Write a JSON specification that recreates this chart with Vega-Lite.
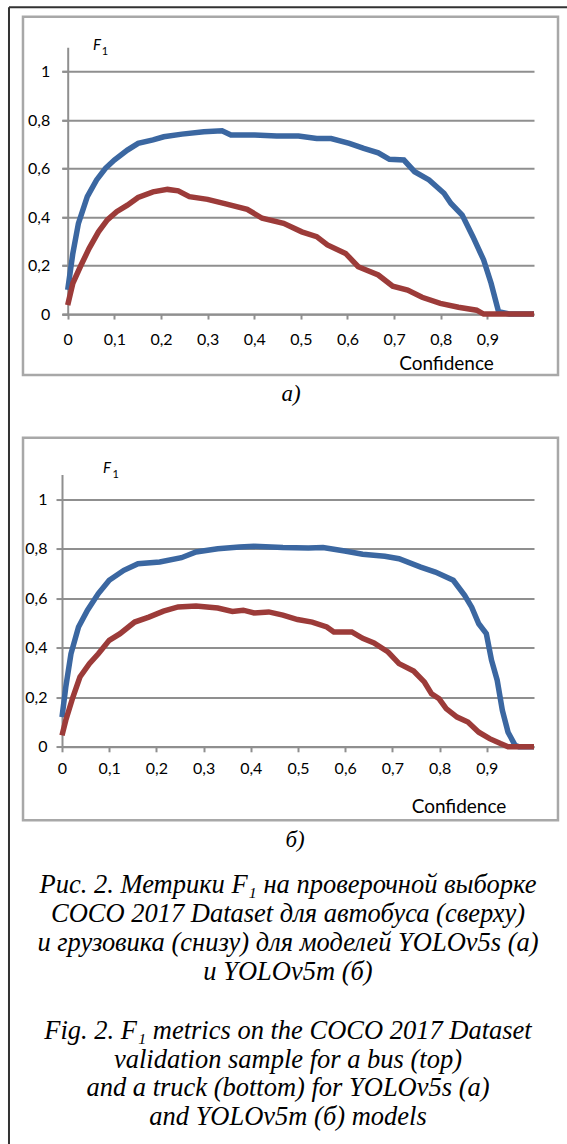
{
  "$schema": "https://vega.github.io/schema/vega-lite/v6.json",
  "padding": {"left": 7, "top": 6.3, "right": 0, "bottom": 0},
  "background": "white",
  "spacing": 160.25,
  "bounds": "flush",
  "config": {
    "view": {"stroke": null},
    "axis": {
      "labelFont": "Lato", "labelFontSize": 16, "labelColor": "#000000",
      "domainColor": "#8f8f8f", "domainWidth": 2,
      "tickColor": "#8f8f8f", "tickWidth": 2,
      "gridColor": "#8f8f8f", "gridWidth": 2,
      "titleFont": "Lato", "titleFontSize": 19, "titleFontWeight": "normal", "titleColor": "#000000",
      "labelFlush": false, "labelOverlap": false
    }
  },
  "datasets": {
    "a": [
      {"series": "bus", "confidence": 0, "f1": 0.10},
      {"series": "bus", "confidence": 0.011, "f1": 0.25},
      {"series": "bus", "confidence": 0.023, "f1": 0.374},
      {"series": "bus", "confidence": 0.042, "f1": 0.484},
      {"series": "bus", "confidence": 0.062, "f1": 0.553},
      {"series": "bus", "confidence": 0.081, "f1": 0.601},
      {"series": "bus", "confidence": 0.1, "f1": 0.635},
      {"series": "bus", "confidence": 0.128, "f1": 0.676},
      {"series": "bus", "confidence": 0.151, "f1": 0.704},
      {"series": "bus", "confidence": 0.183, "f1": 0.718},
      {"series": "bus", "confidence": 0.206, "f1": 0.731},
      {"series": "bus", "confidence": 0.245, "f1": 0.742},
      {"series": "bus", "confidence": 0.292, "f1": 0.752},
      {"series": "bus", "confidence": 0.331, "f1": 0.756},
      {"series": "bus", "confidence": 0.35, "f1": 0.738},
      {"series": "bus", "confidence": 0.401, "f1": 0.738},
      {"series": "bus", "confidence": 0.448, "f1": 0.734},
      {"series": "bus", "confidence": 0.495, "f1": 0.734},
      {"series": "bus", "confidence": 0.534, "f1": 0.724},
      {"series": "bus", "confidence": 0.565, "f1": 0.724},
      {"series": "bus", "confidence": 0.604, "f1": 0.704},
      {"series": "bus", "confidence": 0.635, "f1": 0.683},
      {"series": "bus", "confidence": 0.666, "f1": 0.665},
      {"series": "bus", "confidence": 0.69, "f1": 0.638},
      {"series": "bus", "confidence": 0.721, "f1": 0.635},
      {"series": "bus", "confidence": 0.744, "f1": 0.587},
      {"series": "bus", "confidence": 0.775, "f1": 0.553},
      {"series": "bus", "confidence": 0.807, "f1": 0.498},
      {"series": "bus", "confidence": 0.822, "f1": 0.456},
      {"series": "bus", "confidence": 0.846, "f1": 0.408},
      {"series": "bus", "confidence": 0.869, "f1": 0.319},
      {"series": "bus", "confidence": 0.892, "f1": 0.223},
      {"series": "bus", "confidence": 0.908, "f1": 0.127},
      {"series": "bus", "confidence": 0.924, "f1": 0.01},
      {"series": "bus", "confidence": 0.947, "f1": 0},
      {"series": "bus", "confidence": 1.0, "f1": 0},
      {"series": "truck", "confidence": 0, "f1": 0.037},
      {"series": "truck", "confidence": 0.011, "f1": 0.127},
      {"series": "truck", "confidence": 0.027, "f1": 0.195},
      {"series": "truck", "confidence": 0.046, "f1": 0.271},
      {"series": "truck", "confidence": 0.066, "f1": 0.339},
      {"series": "truck", "confidence": 0.085, "f1": 0.388},
      {"series": "truck", "confidence": 0.105, "f1": 0.422},
      {"series": "truck", "confidence": 0.128, "f1": 0.449},
      {"series": "truck", "confidence": 0.151, "f1": 0.481},
      {"series": "truck", "confidence": 0.183, "f1": 0.504},
      {"series": "truck", "confidence": 0.214, "f1": 0.514},
      {"series": "truck", "confidence": 0.237, "f1": 0.508},
      {"series": "truck", "confidence": 0.261, "f1": 0.484},
      {"series": "truck", "confidence": 0.3, "f1": 0.473},
      {"series": "truck", "confidence": 0.339, "f1": 0.454},
      {"series": "truck", "confidence": 0.385, "f1": 0.432},
      {"series": "truck", "confidence": 0.417, "f1": 0.395},
      {"series": "truck", "confidence": 0.463, "f1": 0.374},
      {"series": "truck", "confidence": 0.502, "f1": 0.339},
      {"series": "truck", "confidence": 0.534, "f1": 0.319},
      {"series": "truck", "confidence": 0.557, "f1": 0.285},
      {"series": "truck", "confidence": 0.596, "f1": 0.25},
      {"series": "truck", "confidence": 0.623, "f1": 0.195},
      {"series": "truck", "confidence": 0.666, "f1": 0.161},
      {"series": "truck", "confidence": 0.697, "f1": 0.115},
      {"series": "truck", "confidence": 0.729, "f1": 0.099},
      {"series": "truck", "confidence": 0.76, "f1": 0.069},
      {"series": "truck", "confidence": 0.799, "f1": 0.044},
      {"series": "truck", "confidence": 0.838, "f1": 0.028},
      {"series": "truck", "confidence": 0.877, "f1": 0.016},
      {"series": "truck", "confidence": 0.892, "f1": 0},
      {"series": "truck", "confidence": 1.0, "f1": 0}
    ],
    "b": [
      {"series": "bus", "confidence": 0, "f1": 0.12},
      {"series": "bus", "confidence": 0.008, "f1": 0.241},
      {"series": "bus", "confidence": 0.019, "f1": 0.376},
      {"series": "bus", "confidence": 0.035, "f1": 0.484},
      {"series": "bus", "confidence": 0.054, "f1": 0.552},
      {"series": "bus", "confidence": 0.077, "f1": 0.619},
      {"series": "bus", "confidence": 0.1, "f1": 0.673},
      {"series": "bus", "confidence": 0.131, "f1": 0.713},
      {"series": "bus", "confidence": 0.161, "f1": 0.74},
      {"series": "bus", "confidence": 0.207, "f1": 0.747},
      {"series": "bus", "confidence": 0.253, "f1": 0.764},
      {"series": "bus", "confidence": 0.284, "f1": 0.787},
      {"series": "bus", "confidence": 0.33, "f1": 0.8},
      {"series": "bus", "confidence": 0.376, "f1": 0.807},
      {"series": "bus", "confidence": 0.407, "f1": 0.81},
      {"series": "bus", "confidence": 0.468, "f1": 0.805},
      {"series": "bus", "confidence": 0.522, "f1": 0.803},
      {"series": "bus", "confidence": 0.553, "f1": 0.805},
      {"series": "bus", "confidence": 0.599, "f1": 0.791},
      {"series": "bus", "confidence": 0.637, "f1": 0.778},
      {"series": "bus", "confidence": 0.684, "f1": 0.77},
      {"series": "bus", "confidence": 0.714, "f1": 0.76},
      {"series": "bus", "confidence": 0.76, "f1": 0.726},
      {"series": "bus", "confidence": 0.791, "f1": 0.706},
      {"series": "bus", "confidence": 0.829, "f1": 0.673},
      {"series": "bus", "confidence": 0.853, "f1": 0.612},
      {"series": "bus", "confidence": 0.868, "f1": 0.564},
      {"series": "bus", "confidence": 0.883, "f1": 0.497},
      {"series": "bus", "confidence": 0.899, "f1": 0.457},
      {"series": "bus", "confidence": 0.91, "f1": 0.35},
      {"series": "bus", "confidence": 0.922, "f1": 0.269},
      {"series": "bus", "confidence": 0.933, "f1": 0.147},
      {"series": "bus", "confidence": 0.945, "f1": 0.059},
      {"series": "bus", "confidence": 0.96, "f1": 0.006},
      {"series": "bus", "confidence": 0.968, "f1": 0},
      {"series": "bus", "confidence": 1.0, "f1": 0},
      {"series": "truck", "confidence": 0, "f1": 0.046},
      {"series": "truck", "confidence": 0.008, "f1": 0.107},
      {"series": "truck", "confidence": 0.023, "f1": 0.2},
      {"series": "truck", "confidence": 0.038, "f1": 0.282},
      {"series": "truck", "confidence": 0.058, "f1": 0.336},
      {"series": "truck", "confidence": 0.077, "f1": 0.376},
      {"series": "truck", "confidence": 0.1, "f1": 0.43},
      {"series": "truck", "confidence": 0.123, "f1": 0.457},
      {"series": "truck", "confidence": 0.154, "f1": 0.504},
      {"series": "truck", "confidence": 0.184, "f1": 0.524},
      {"series": "truck", "confidence": 0.215, "f1": 0.548},
      {"series": "truck", "confidence": 0.246, "f1": 0.565},
      {"series": "truck", "confidence": 0.284, "f1": 0.569},
      {"series": "truck", "confidence": 0.33, "f1": 0.561},
      {"series": "truck", "confidence": 0.361, "f1": 0.547},
      {"series": "truck", "confidence": 0.384, "f1": 0.552},
      {"series": "truck", "confidence": 0.407, "f1": 0.541},
      {"series": "truck", "confidence": 0.438, "f1": 0.545},
      {"series": "truck", "confidence": 0.468, "f1": 0.532},
      {"series": "truck", "confidence": 0.499, "f1": 0.514},
      {"series": "truck", "confidence": 0.53, "f1": 0.504},
      {"series": "truck", "confidence": 0.561, "f1": 0.484},
      {"series": "truck", "confidence": 0.576, "f1": 0.464},
      {"series": "truck", "confidence": 0.614, "f1": 0.464},
      {"series": "truck", "confidence": 0.637, "f1": 0.438},
      {"series": "truck", "confidence": 0.661, "f1": 0.42},
      {"series": "truck", "confidence": 0.691, "f1": 0.383},
      {"series": "truck", "confidence": 0.714, "f1": 0.336},
      {"series": "truck", "confidence": 0.745, "f1": 0.306},
      {"series": "truck", "confidence": 0.768, "f1": 0.261},
      {"series": "truck", "confidence": 0.783, "f1": 0.214},
      {"series": "truck", "confidence": 0.799, "f1": 0.194},
      {"series": "truck", "confidence": 0.814, "f1": 0.154},
      {"series": "truck", "confidence": 0.837, "f1": 0.12},
      {"series": "truck", "confidence": 0.86, "f1": 0.1},
      {"series": "truck", "confidence": 0.883, "f1": 0.059},
      {"series": "truck", "confidence": 0.906, "f1": 0.033},
      {"series": "truck", "confidence": 0.929, "f1": 0.013},
      {"series": "truck", "confidence": 0.945, "f1": 0},
      {"series": "truck", "confidence": 1.0, "f1": 0}
    ]
  },
  "vconcat": [
    {
      "width": 472,
      "height": 266.75,
      "layer": [
        {
          "data": {"values": [{}]},
          "mark": {"type": "rule", "color": "#333333", "strokeWidth": 2, "clip": false},
          "encoding": {
            "x": {"datum": -0.1259, "type": "quantitative"},
            "y": {"datum": 1.2647, "type": "quantitative"},
            "y2": {"datum": -3.4227}
          }
        },
        {
          "data": {"values": [{}]},
          "mark": {"type": "rule", "color": "#333333", "strokeWidth": 2, "clip": false},
          "encoding": {
            "y": {"datum": 1.2647, "type": "quantitative"},
            "x": {"datum": -0.1259, "type": "quantitative"},
            "x2": {"datum": 1.0729}
          }
        },
        {
          "data": {"values": [{}]},
          "mark": {"type": "rect", "fill": "transparent", "stroke": "#a8a8a8", "strokeWidth": 2.5, "clip": false},
          "encoding": {
            "x": {"datum": -0.0959, "type": "quantitative"},
            "x2": {"datum": 1.0515},
            "y": {"datum": 1.226, "type": "quantitative"},
            "y2": {"datum": -0.2515}
          }
        },
        {
          "data": {"name": "a"},
          "mark": {"type": "line", "strokeWidth": 5.5, "clip": false},
          "encoding": {
            "x": {
              "field": "confidence", "type": "quantitative",
              "scale": {"domain": [-0.01222, 1], "nice": false, "zero": false},
              "axis": {
                "values": [0, 0.1, 0.2, 0.3, 0.4, 0.5, 0.6, 0.7, 0.8, 0.9],
                "labelExpr": "replace(format(datum.value, '~g'), '.', ',')",
                "grid": false, "tickSize": 5, "labelPadding": 12,
                "title": "Confidence", "titleX": 384, "titleY": 49,
                "titleAlign": "center", "titleBaseline": "middle"
              }
            },
            "y": {
              "field": "f1", "type": "quantitative",
              "scale": {"domain": [0, 1.1], "nice": false, "zero": false},
              "axis": {
                "values": [0, 0.2, 0.4, 0.6, 0.8, 1],
                "labelExpr": "replace(format(datum.value, '~g'), '.', ',')",
                "grid": true, "tickSize": 6, "labelPadding": 12, "offset": -5.7,
                "title": null
              }
            },
            "color": {
              "field": "series", "type": "nominal",
              "scale": {"domain": ["bus", "truck"], "range": ["#3b67a1", "#9c3b39"]},
              "legend": null
            }
          }
        },
        {
          "data": {"values": [{}]},
          "mark": {"type": "text", "font": "Lato", "fontStyle": "italic", "fontSize": 15, "color": "#000000", "align": "center", "baseline": "middle", "clip": false},
          "encoding": {
            "x": {"datum": 0.0628, "type": "quantitative"},
            "y": {"datum": 1.109, "type": "quantitative"},
            "text": {"value": "F"}
          }
        },
        {
          "data": {"values": [{}]},
          "mark": {"type": "text", "font": "Lato", "fontSize": 11, "color": "#000000", "align": "center", "baseline": "middle", "clip": false},
          "encoding": {
            "x": {"datum": 0.0798, "type": "quantitative"},
            "y": {"datum": 1.08, "type": "quantitative"},
            "text": {"value": "1"}
          }
        },
        {
          "data": {"values": [{}]},
          "mark": {"type": "text", "font": "'Liberation Serif', 'Times New Roman', serif", "fontStyle": "italic", "fontSize": 23, "color": "#000000", "align": "center", "baseline": "middle", "clip": false},
          "encoding": {
            "x": {"datum": 0.479, "type": "quantitative"},
            "y": {"datum": -0.33, "type": "quantitative"},
            "text": {"value": "а)"}
          }
        }
      ]
    },
    {
      "width": 472,
      "height": 272.25,
      "layer": [
        {
          "data": {"values": [{}]},
          "mark": {"type": "rect", "fill": "transparent", "stroke": "#a8a8a8", "strokeWidth": 2.5, "clip": false},
          "encoding": {
            "x": {"datum": -0.0826, "type": "quantitative"},
            "x2": {"datum": 1.0508},
            "y": {"datum": 1.249, "type": "quantitative"},
            "y2": {"datum": -0.297}
          }
        },
        {
          "data": {"name": "b"},
          "mark": {"type": "line", "strokeWidth": 5.5, "clip": false},
          "encoding": {
            "x": {
              "field": "confidence", "type": "quantitative",
              "scale": {"domain": [0, 1], "nice": false, "zero": false},
              "axis": {
                "values": [0, 0.1, 0.2, 0.3, 0.4, 0.5, 0.6, 0.7, 0.8, 0.9],
                "labelExpr": "replace(format(datum.value, '~g'), '.', ',')",
                "grid": false, "tickSize": 5, "labelPadding": 9,
                "title": "Confidence", "titleX": 396.5, "titleY": 60,
                "titleAlign": "center", "titleBaseline": "middle"
              }
            },
            "y": {
              "field": "f1", "type": "quantitative",
              "scale": {"domain": [0, 1.1], "nice": false, "zero": false},
              "axis": {
                "values": [0, 0.2, 0.4, 0.6, 0.8, 1],
                "labelExpr": "replace(format(datum.value, '~g'), '.', ',')",
                "grid": true, "tickSize": 6, "labelPadding": 9,
                "title": null
              }
            },
            "color": {
              "field": "series", "type": "nominal",
              "scale": {"domain": ["bus", "truck"], "range": ["#3b67a1", "#9c3b39"]},
              "legend": null
            }
          }
        },
        {
          "data": {"values": [{}]},
          "mark": {"type": "text", "font": "Lato", "fontStyle": "italic", "fontSize": 15, "color": "#000000", "align": "center", "baseline": "middle", "clip": false},
          "encoding": {
            "x": {"datum": 0.0953, "type": "quantitative"},
            "y": {"datum": 1.127, "type": "quantitative"},
            "text": {"value": "F"}
          }
        },
        {
          "data": {"values": [{}]},
          "mark": {"type": "text", "font": "Lato", "fontSize": 11, "color": "#000000", "align": "center", "baseline": "middle", "clip": false},
          "encoding": {
            "x": {"datum": 0.114, "type": "quantitative"},
            "y": {"datum": 1.099, "type": "quantitative"},
            "text": {"value": "1"}
          }
        },
        {
          "data": {"values": [{}]},
          "mark": {"type": "text", "font": "'Liberation Serif', 'Times New Roman', serif", "fontStyle": "italic", "fontSize": 23, "color": "#000000", "align": "center", "baseline": "middle", "clip": false},
          "encoding": {
            "x": {"datum": 0.494, "type": "quantitative"},
            "y": {"datum": -0.378, "type": "quantitative"},
            "text": {"value": "б)"}
          }
        },
        {
          "data": {"values": [{}]},
          "mark": {"type": "text", "font": "'Liberation Serif', 'Times New Roman', serif", "fontStyle": "italic", "fontSize": 26.5, "lineHeight": 29, "color": "#000000", "align": "center", "baseline": "middle", "clip": false},
          "encoding": {
            "x": {"datum": 0.4788, "type": "quantitative"},
            "y": {"datum": -0.5596, "type": "quantitative"},
            "text": {"value": ["Рис. 2. Метрики F₁ на проверочной выборке", "COCO 2017 Dataset для автобуса (сверху)", "и грузовика (снизу) для моделей YOLOv5s (а)", "и YOLOv5m (б)"]}
          }
        },
        {
          "data": {"values": [{}]},
          "mark": {"type": "text", "font": "'Liberation Serif', 'Times New Roman', serif", "fontStyle": "italic", "fontSize": 26.5, "lineHeight": 28.6, "color": "#000000", "align": "center", "baseline": "middle", "clip": false},
          "encoding": {
            "x": {"datum": 0.4788, "type": "quantitative"},
            "y": {"datum": -1.1495, "type": "quantitative"},
            "text": {"value": ["Fig. 2. F₁ metrics on the COCO 2017 Dataset", "validation sample for a bus (top)", "and a truck (bottom) for YOLOv5s (а)", "and YOLOv5m (б) models"]}
          }
        }
      ]
    }
  ]
}
